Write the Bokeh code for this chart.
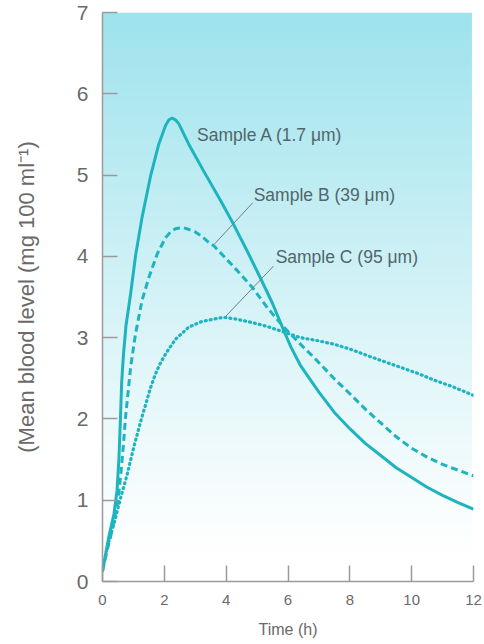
import numpy as np
from bokeh.plotting import figure
from bokeh.models import Range1d, FixedTicker, Label
from bokeh.embed import file_html
from bokeh.resources import INLINE

# ---- data ----
time_a = [0.0, 0.2, 0.37, 0.47, 0.53, 0.58, 0.62, 0.68, 0.76, 0.91, 1.07, 1.28, 1.55, 1.82, 2.04, 2.15, 2.25,
          2.36, 2.47, 2.79, 3.3, 3.8, 4.23, 4.7, 5.1, 5.5, 5.85, 6.1, 6.4, 7.0, 7.5, 8.0, 8.5, 9.0,
          9.5, 10.0, 10.5, 11.0, 11.5, 12.0]
level_a = [0.13, 0.54, 0.83, 1.12, 1.5, 2.0, 2.45, 2.8, 3.15, 3.54, 4.01, 4.48, 4.98, 5.38, 5.61, 5.68, 5.70,
           5.68, 5.63, 5.38, 5.03, 4.70, 4.40, 4.05, 3.74, 3.42, 3.10, 2.88, 2.66, 2.33, 2.08, 1.88, 1.70, 1.55,
           1.40, 1.28, 1.16, 1.06, 0.97, 0.89]

time_b = [0.0, 0.15, 0.31, 0.51, 0.6, 0.68, 0.74, 0.82, 0.91, 1.07, 1.28, 1.5, 1.77, 2.04, 2.2, 2.36, 2.5, 2.63,
          2.8, 3.0, 3.2, 3.44, 3.6, 4.25, 4.84, 5.33, 5.86, 6.4, 6.83, 7.48, 8.0, 8.5, 9.0, 9.5, 10.0,
          10.5, 11.0, 11.5, 12.0]
level_b = [0.13, 0.38, 0.63, 1.02, 1.35, 1.7, 2.0, 2.3, 2.64, 3.05, 3.46, 3.74, 4.03, 4.23, 4.30, 4.34, 4.35, 4.35,
           4.33, 4.30, 4.25, 4.17, 4.13, 3.87, 3.62, 3.37, 3.13, 2.92, 2.76, 2.50, 2.31, 2.12, 1.95, 1.78, 1.64,
           1.53, 1.44, 1.37, 1.30]

time_c = [0.0, 0.15, 0.37, 0.58, 0.8, 1.01, 1.15, 1.28, 1.39, 1.55, 1.71, 1.85, 2.04, 2.36, 2.79, 3.22, 3.5,
          3.76, 3.92, 4.3, 4.79, 5.3, 5.86, 6.4, 7.0, 7.48, 8.0, 8.56, 9.0, 9.6, 10.2, 10.71, 11.3, 12.0]
level_c = [0.13, 0.42, 0.71, 1.02, 1.32, 1.65, 1.85, 2.03, 2.17, 2.38, 2.55, 2.67, 2.80, 2.98, 3.13, 3.20, 3.22,
           3.24, 3.25, 3.23, 3.19, 3.14, 3.07, 3.00, 2.96, 2.92, 2.86, 2.78, 2.72, 2.64, 2.56, 2.48, 2.40, 2.29]

x_ticks = [0, 2, 4, 6, 8, 10, 12]
y_ticks = [0, 1, 2, 3, 4, 5, 6, 7]

labels = ["Sample A (1.7 \u03bcm)", "Sample B (39 \u03bcm)", "Sample C (95 \u03bcm)"]
label_x = [3.06, 4.89, 5.60]
label_y = [5.49, 4.75, 3.99]
leader_b = ([4.86, 3.62], [4.66, 4.15])
leader_c = ([5.53, 3.98], [3.88, 3.26])

# ---- style ----
TEAL = "#1db4bf"
GREY_TXT = "#6a6a6a"
LBL_TXT = "#50666a"
AXIS = "#9a9a9a"
FONT = "Liberation Sans"

p = figure(width=484, height=644, output_backend="svg", toolbar_location=None,
           x_range=Range1d(0, 12), y_range=Range1d(0, 7),
           min_border_left=102, min_border_right=11, min_border_top=12, min_border_bottom=63)
p.outline_line_color = None
p.grid.grid_line_color = None
p.background_fill_color = "white"
p.border_fill_color = "white"

# vertical gradient background (cyan at top fading to white)
rows = 570
yy = np.linspace(0, 7, rows)
f = np.clip((yy - 0.35) / 6.65, 0, 1) ** 1.1
top = np.array([158, 227, 237])
cols = (255 - (255 - top)[None, :] * f[:, None]).astype(np.uint32)
img = np.empty((rows, 1), dtype=np.uint32)
view = img.view(dtype=np.uint8).reshape((rows, 1, 4))
view[:, 0, 0] = cols[:, 0]
view[:, 0, 1] = cols[:, 1]
view[:, 0, 2] = cols[:, 2]
view[:, 0, 3] = 255
p.image_rgba(image=[img], x=0, y=0, dw=11.95, dh=7)

# curves
p.line(time_a, level_a, line_color=TEAL, line_width=3, line_join="round")
p.line(time_b, level_b, line_color=TEAL, line_width=3, line_dash="7 4", line_join="round")
p.line(time_c, level_c, line_color=TEAL, line_width=3.2, line_dash="1 4", line_cap="round",
       line_join="round")

# leader lines
p.line(leader_b[0], leader_b[1], line_color="#6f7f82", line_width=1)
p.line(leader_c[0], leader_c[1], line_color="#6f7f82", line_width=1)

for t, lx, ly in zip(labels, label_x, label_y):
    p.add_layout(Label(x=lx, y=ly, text=t, text_font=FONT, text_font_size="17.5px",
                       text_color=LBL_TXT, text_baseline="alphabetic", text_align="left"))

# axes
xa = p.xaxis[0]
xa.ticker = FixedTicker(ticks=x_ticks)
xa.axis_label = "Time (h)"
xa.major_tick_in = 16
xa.major_tick_out = 0
xa.minor_tick_line_color = None
xa.axis_line_color = AXIS
xa.axis_line_width = 1.5
xa.major_tick_line_color = AXIS
xa.major_tick_line_width = 1.5
xa.major_label_text_font = FONT
xa.major_label_text_font_size = "15px"
xa.major_label_text_color = GREY_TXT
xa.major_label_standoff = 13
xa.axis_label_text_font = FONT
xa.axis_label_text_font_size = "16px"
xa.axis_label_text_font_style = "normal"
xa.axis_label_text_color = GREY_TXT
xa.axis_label_standoff = 13

ya = p.yaxis[0]
ya.ticker = FixedTicker(ticks=y_ticks)
ya.axis_label = "(Mean blood level (mg 100 ml\u207b\u00b9)"
ya.major_tick_in = 15
ya.major_tick_out = 0
ya.minor_tick_line_color = None
ya.axis_line_color = AXIS
ya.axis_line_width = 1.5
ya.major_tick_line_color = AXIS
ya.major_tick_line_width = 1.5
ya.major_label_text_font = FONT
ya.major_label_text_font_size = "21px"
ya.major_label_text_color = GREY_TXT
ya.major_label_standoff = 14
ya.axis_label_text_font = FONT
ya.axis_label_text_font_size = "22px"
ya.axis_label_text_font_style = "normal"
ya.axis_label_text_color = GREY_TXT
ya.axis_label_standoff = 35

open("out.html", "w").write(file_html(p, INLINE))
